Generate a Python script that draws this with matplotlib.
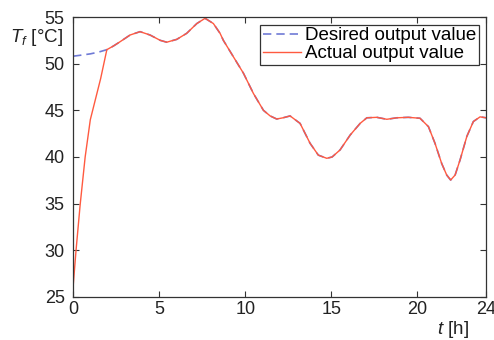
import matplotlib
matplotlib.use("Agg")
import matplotlib.pyplot as plt

plt.rcParams.update({
    "font.family": ["Liberation Sans", "DejaVu Sans"],
    "font.size": 11,
    "mathtext.fontset": "custom",
    "mathtext.rm": "Liberation Sans",
    "mathtext.it": "Liberation Sans:italic",
    "axes.edgecolor": "#333333",
    "axes.linewidth": 0.9,
    "xtick.direction": "in",
    "ytick.direction": "in",
    "xtick.top": True,
    "ytick.right": True,
    "xtick.color": "#333333",
    "ytick.color": "#333333",
    "xtick.labelcolor": "#222222",
    "ytick.labelcolor": "#222222",
})

# desired temperature trajectory
t_desired = [0, 0.5, 1.0, 1.5, 1.96, 2.35, 2.73, 3.31, 3.89, 4.47, 5.06, 5.44,
             6.02, 6.6, 7.19, 7.67, 8.15, 8.54, 8.73, 9.31, 9.9, 10.48, 11.06,
             11.45, 11.83, 12.2, 12.61, 13.19, 13.77, 14.25, 14.74, 15.05,
             15.51, 16.1, 16.68, 17.07, 17.65, 18.23, 18.81, 19.48, 20.16,
             20.65, 21.03, 21.42, 21.71, 21.94, 22.2, 22.49, 22.88, 23.26,
             23.65, 24.0]
T_desired = [50.8, 50.92, 51.05, 51.25, 51.5, 51.9, 52.35, 53.07, 53.43, 53.07,
             52.5, 52.3, 52.6, 53.25, 54.3, 54.86, 54.3, 53.25, 52.5, 50.75,
             48.97, 46.8, 45.0, 44.4, 44.07, 44.2, 44.4, 43.6, 41.47, 40.2,
             39.86, 40.0, 40.75, 42.35, 43.6, 44.2, 44.25, 44.04, 44.2, 44.25,
             44.15, 43.25, 41.47, 39.3, 38.07, 37.53, 38.07, 39.7, 42.2, 43.8,
             44.3, 44.2]

# start-up transient of the actual output, then it tracks the setpoint
t_startup = [0, 0.17, 0.41, 0.7, 1.0, 1.3, 1.6]
T_startup = [26.1, 30.0, 34.9, 40.0, 44.0, 46.2, 48.4]

i0 = t_desired.index(1.96)
t_actual = t_startup + t_desired[i0:]
T_actual = T_startup + T_desired[i0:]

fig = plt.figure(figsize=(4.94, 3.40), dpi=100)
ax = fig.add_axes([0.148, 0.1265, 0.836, 0.8235])

ax.plot(t_desired, T_desired, color="#6f7ad6", lw=1.2, ls=(0, (5, 3)),
        label="Desired output value")
ax.plot(t_actual, T_actual, color="#ff5a40", lw=1.0,
        label="Actual output value")

ax.set_xlim(0, 24)
ax.set_ylim(25, 55)
ax.set_xticks([0, 5, 10, 15, 20, 24])
ax.set_yticks([25, 30, 35, 40, 45, 50, 55])
ax.tick_params(labelsize=13, length=4, width=0.8)
ax.tick_params(axis="y", pad=6)
ax.tick_params(axis="x", pad=3)

fig.text(0.02, 0.89, "$T_f$ [°C]", fontsize=13.5, color="#222222", va="center")
fig.text(0.885, 0.032, "$t$ [h]", fontsize=13.5, color="#222222", va="center")

leg = ax.legend(loc="upper right", fontsize=13.5, handlelength=2.0,
                handletextpad=0.2, borderpad=0.15, labelspacing=0.05,
                fancybox=False, framealpha=1, borderaxespad=0.4)
leg.get_frame().set_edgecolor("#333333")
leg.get_frame().set_linewidth(0.9)

fig.savefig("out.png", dpi=100)
